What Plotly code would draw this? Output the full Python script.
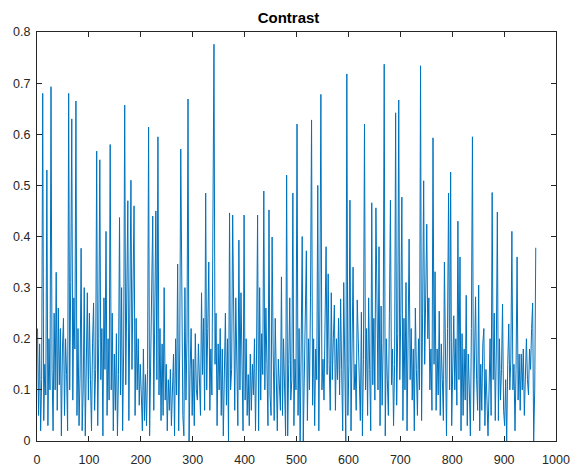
import plotly.graph_objects as go

# Contrast values, sampled every 2 indices (x = 1, 3, 5, ...)
contrast = [
    0.22, 0.05, 0.19, 0.02, 0.12, 0.68, 0.04, 0.15, 0.09, 0.53, 0.03, 0.20, 0.10, 0.693, 0.14,
    0.02, 0.25, 0.10, 0.33, 0.06, 0.26, 0.11, 0.22, 0.01, 0.18, 0.24, 0.05, 0.20, 0.13, 0.02,
    0.68, 0.10, 0.31, 0.63, 0.08, 0.28, 0.18, 0.665, 0.05, 0.22, 0.03, 0.13, 0.377, 0.02, 0.10,
    0.30, 0.01, 0.15, 0.29, 0.08, 0.25, 0.12, 0.02, 0.19, 0.27, 0.06, 0.14, 0.567, 0.03, 0.20,
    0.55, 0.12, 0.22, 0.01, 0.28, 0.14, 0.41, 0.05, 0.20, 0.08, 0.58, 0.10, 0.25, 0.02, 0.17,
    0.06, 0.21, 0.01, 0.13, 0.437, 0.09, 0.30, 0.02, 0.18, 0.657, 0.11, 0.35, 0.47, 0.04, 0.26,
    0.51, 0.14, 0.32, 0.46, 0.05, 0.24, 0.10, 0.20, 0.07, 0.15, 0.09, 0.02, 0.18, 0.04, 0.13,
    0.03, 0.14, 0.614, 0.01, 0.15, 0.30, 0.44, 0.06, 0.25, 0.45, 0.12, 0.595, 0.09, 0.22, 0.04,
    0.19, 0.05, 0.30, 0.08, 0.15, 0.02, 0.12, 0.06, 0.14, 0.03, 0.10, 0.17, 0.01, 0.20, 0.09,
    0.346, 0.02, 0.18, 0.571, 0.25, 0.05, 0.01, 0.30, 0.08, 0.20, 0.669, 0.00, 0.14, 0.22, 0.05,
    0.16, 0.03, 0.21, 0.10, 0.08, 0.19, 0.12, 0.05, 0.29, 0.13, 0.24, 0.06, 0.485, 0.10, 0.22,
    0.35, 0.06, 0.18, 0.09, 0.41, 0.776, 0.15, 0.25, 0.03, 0.19, 0.10, 0.22, 0.05, 0.18, 0.01,
    0.12, 0.25, 0.07, 0.20, 0.00, 0.446, 0.10, 0.14, 0.442, 0.20, 0.06, 0.28, 0.11, 0.03, 0.393,
    0.10, 0.29, 0.15, 0.02, 0.442, 0.08, 0.20, 0.05, 0.13, 0.03, 0.17, 0.06, 0.15, 0.09, 0.20,
    0.02, 0.17, 0.442, 0.02, 0.30, 0.08, 0.21, 0.13, 0.489, 0.10, 0.26, 0.15, 0.03, 0.452, 0.09,
    0.05, 0.399, 0.18, 0.04, 0.24, 0.12, 0.02, 0.16, 0.10, 0.06, 0.321, 0.05, 0.20, 0.11, 0.01,
    0.52, 0.01, 0.15, 0.28, 0.08, 0.12, 0.485, 0.03, 0.16, 0.10, 0.62, 0.05, 0.22, 0.00, 0.18,
    0.40, 0.00, 0.14, 0.25, 0.372, 0.04, 0.20, 0.10, 0.28, 0.628, 0.07, 0.20, 0.03, 0.18, 0.12,
    0.50, 0.02, 0.26, 0.678, 0.10, 0.16, 0.08, 0.22, 0.38, 0.13, 0.327, 0.15, 0.06, 0.29, 0.12,
    0.20, 0.266, 0.06, 0.20, 0.12, 0.24, 0.09, 0.278, 0.14, 0.02, 0.31, 0.08, 0.00, 0.718, 0.05,
    0.15, 0.471, 0.02, 0.20, 0.34, 0.10, 0.15, 0.06, 0.276, 0.20, 0.11, 0.04, 0.252, 0.01, 0.16,
    0.62, 0.10, 0.22, 0.05, 0.28, 0.14, 0.02, 0.466, 0.11, 0.24, 0.08, 0.456, 0.20, 0.10, 0.38,
    0.03, 0.264, 0.07, 0.19, 0.737, 0.01, 0.20, 0.12, 0.05, 0.25, 0.471, 0.11, 0.18, 0.03, 0.15,
    0.642, 0.07, 0.21, 0.667, 0.12, 0.25, 0.477, 0.04, 0.24, 0.10, 0.31, 0.02, 0.20, 0.395, 0.12,
    0.22, 0.08, 0.18, 0.02, 0.26, 0.14, 0.05, 0.20, 0.10, 0.734, 0.04, 0.25, 0.509, 0.15, 0.30,
    0.424, 0.20, 0.28, 0.10, 0.18, 0.06, 0.593, 0.15, 0.331, 0.06, 0.18, 0.09, 0.254, 0.05, 0.19,
    0.12, 0.04, 0.35, 0.15, 0.01, 0.22, 0.485, 0.10, 0.526, 0.03, 0.14, 0.245, 0.10, 0.20, 0.07,
    0.43, 0.12, 0.36, 0.02, 0.21, 0.05, 0.18, 0.08, 0.285, 0.03, 0.17, 0.10, 0.01, 0.22, 0.595,
    0.04, 0.13, 0.282, 0.12, 0.06, 0.305, 0.02, 0.15, 0.06, 0.19, 0.22, 0.03, 0.14, 0.08, 0.01,
    0.10, 0.20, 0.05, 0.486, 0.12, 0.25, 0.04, 0.18, 0.448, 0.04, 0.20, 0.08, 0.14, 0.268, 0.06,
    0.03, 0.12, 0.00, 0.15, 0.229, 0.10, 0.16, 0.41, 0.10, 0.15, 0.02, 0.14, 0.36, 0.08, 0.17,
    0.06, 0.17, 0.10, 0.18, 0.05, 0.16, 0.20, 0.12, 0.09, 0.18, 0.14, 0.22, 0.27, 0.00, 0.10,
    0.378,
]
index = list(range(1, 1 + 2 * len(contrast), 2))

x_ticks = [0, 100, 200, 300, 400, 500, 600, 700, 800, 900, 1000]
y_ticks = [0, 0.1, 0.2, 0.3, 0.4, 0.5, 0.6, 0.7, 0.8]
y_labels = ["0", "0.1", "0.2", "0.3", "0.4", "0.5", "0.6", "0.7", "0.8"]

fig = go.Figure()
fig.add_trace(go.Scatter(
    x=index, y=contrast, mode="lines",
    line=dict(color="#0072BD", width=1),
    showlegend=False,
))

axis_common = dict(
    showline=True, linecolor="#262626", linewidth=1, mirror="allticks",
    ticks="inside", ticklen=5, tickcolor="#262626", showgrid=False,
    zeroline=False, automargin=False,
    tickfont=dict(family="Liberation Sans, Arial", size=12.5, color="#262626"),
)

fig.update_layout(
    width=577, height=472,
    margin=dict(l=37, r=21, t=32, b=31, autoexpand=False),
    paper_bgcolor="white", plot_bgcolor="white",
    title=dict(text="<b>Contrast</b>", x=0.5, xanchor="center", y=1 - 17.5 / 472, yanchor="middle",
               font=dict(family="Liberation Sans, Arial", size=15, color="black")),
    xaxis=dict(range=[0, 1000], tickvals=x_ticks, ticklabelstandoff=7, **axis_common),
    yaxis=dict(range=[0, 0.8], tickvals=y_ticks, ticktext=y_labels, ticklabelstandoff=3, **axis_common),
)

fig.write_html("out.html", config={"displayModeBar": False},
               post_script="document.body.style.margin='0';")
